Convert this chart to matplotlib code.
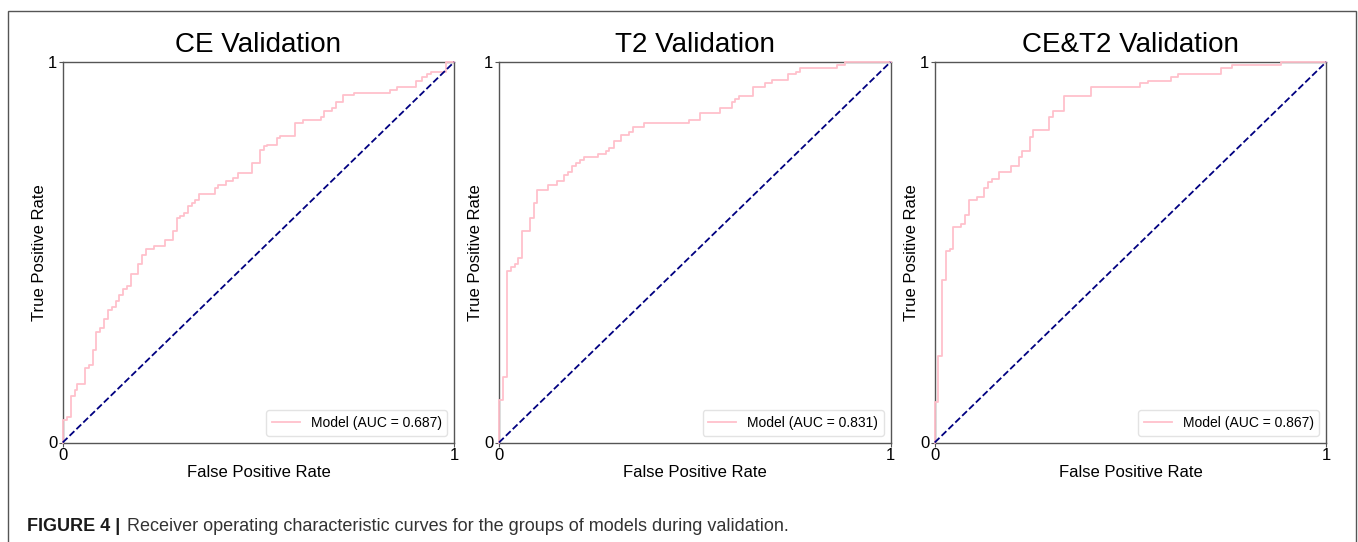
import matplotlib
matplotlib.use("Agg")
import matplotlib.pyplot as plt
from matplotlib.patches import Rectangle

plt.rcParams["font.family"] = ["Liberation Sans", "DejaVu Sans"]

# ── ROC corner points (fpr, tpr after each step) ─────────────────────────────
ce_fpr = [0.000, 0.000, 0.010, 0.020, 0.031, 0.037, 0.058, 0.068, 0.078, 0.085,
          0.095, 0.106, 0.116, 0.126, 0.135, 0.145, 0.155, 0.164, 0.174, 0.193,
          0.203, 0.213, 0.233, 0.262, 0.281, 0.291, 0.300, 0.310, 0.319, 0.330,
          0.339, 0.348, 0.388, 0.397, 0.416, 0.436, 0.448, 0.484, 0.504, 0.513,
          0.523, 0.547, 0.555, 0.593, 0.613, 0.659, 0.668, 0.688, 0.698, 0.717,
          0.744, 0.835, 0.853, 0.903, 0.918, 0.930, 0.942, 0.978, 1.000]
ce_tpr = [0.000, 0.060, 0.067, 0.123, 0.138, 0.154, 0.195, 0.203, 0.243, 0.291,
          0.300, 0.324, 0.349, 0.356, 0.373, 0.388, 0.403, 0.412, 0.443, 0.468,
          0.492, 0.508, 0.516, 0.532, 0.556, 0.589, 0.596, 0.604, 0.622, 0.629,
          0.637, 0.654, 0.670, 0.678, 0.686, 0.694, 0.709, 0.734, 0.769, 0.778,
          0.782, 0.800, 0.806, 0.840, 0.847, 0.855, 0.870, 0.878, 0.895, 0.912,
          0.919, 0.927, 0.935, 0.951, 0.960, 0.968, 0.975, 1.000, 1.000]

t2_fpr = [0.000, 0.000, 0.010, 0.020, 0.031, 0.041, 0.049, 0.060, 0.078, 0.089,
          0.097, 0.126, 0.147, 0.165, 0.176, 0.186, 0.196, 0.206, 0.217, 0.254,
          0.273, 0.282, 0.294, 0.312, 0.331, 0.341, 0.370, 0.485, 0.514, 0.565,
          0.594, 0.602, 0.614, 0.650, 0.679, 0.698, 0.739, 0.758, 0.768, 0.863,
          0.884, 1.000]
t2_tpr = [0.000, 0.113, 0.172, 0.452, 0.460, 0.469, 0.485, 0.557, 0.591, 0.629,
          0.663, 0.678, 0.686, 0.703, 0.711, 0.727, 0.735, 0.743, 0.750, 0.758,
          0.766, 0.775, 0.792, 0.807, 0.815, 0.830, 0.839, 0.847, 0.865, 0.880,
          0.895, 0.904, 0.911, 0.935, 0.944, 0.952, 0.968, 0.975, 0.983, 0.992,
          1.000, 1.000]

both_fpr = [0.000, 0.000, 0.009, 0.019, 0.029, 0.039, 0.048, 0.066, 0.077, 0.087,
            0.107, 0.126, 0.136, 0.147, 0.164, 0.194, 0.215, 0.223, 0.244, 0.252,
            0.291, 0.302, 0.330, 0.399, 0.525, 0.545, 0.603, 0.622, 0.731, 0.760,
            0.884, 1.000]
both_tpr = [0.000, 0.107, 0.227, 0.428, 0.502, 0.509, 0.566, 0.574, 0.598, 0.638,
            0.646, 0.670, 0.685, 0.693, 0.710, 0.726, 0.750, 0.767, 0.804, 0.822,
            0.855, 0.871, 0.911, 0.935, 0.944, 0.951, 0.960, 0.969, 0.983, 0.992,
            1.000, 1.000]

titles = ["CE Validation", "T2 Validation", "CE&T2 Validation"]
aucs   = [0.687, 0.831, 0.867]
curves = [(ce_fpr, ce_tpr), (t2_fpr, t2_tpr), (both_fpr, both_tpr)]

caption_bold = "FIGURE 4 |"
caption_text = "Receiver operating characteristic curves for the groups of models during validation."

W, H = 1358, 542
fig = plt.figure(figsize=(W / 100, H / 100), dpi=100)

# thin frame round the whole figure panel (open at the bottom edge)
fig.add_artist(Rectangle((8 / W, -0.05), (1356 - 8) / W, 1.05 - 11 / H,
                         transform=fig.transFigure, fill=False,
                         edgecolor="#555555", linewidth=1.0))

lefts  = [62.7, 499.0, 934.7]
width  = 391.5
bottom = 1 - 442.5 / H
height = (442.5 - 62.0) / H

for left, title, auc, (fpr, tpr) in zip(lefts, titles, aucs, curves):
    ax = fig.add_axes([left / W, bottom, width / W, height])
    ax.plot(fpr, tpr, drawstyle="steps-post", color="pink", linewidth=1.3,
            label=f"Model (AUC = {auc:.3f})", zorder=3, clip_on=False)
    ax.plot([0, 1], [0, 1], color="navy", linestyle="--", linewidth=1.3,
            zorder=3, clip_on=False)
    ax.set_xlim(0, 1)
    ax.set_ylim(0, 1)
    ax.set_xticks([0, 1])
    ax.set_yticks([0, 1])
    ax.set_xticklabels(["0", "1"])
    ax.set_yticklabels(["0", "1"])
    ax.tick_params(labelsize=12, length=3, width=0.8, pad=1, color="#555555")
    for spine in ax.spines.values():
        spine.set_edgecolor("#555555")
        spine.set_linewidth(1.0)
    ax.set_title(title, fontsize=20, pad=7)
    ax.set_xlabel("False Positive Rate", fontsize=12, labelpad=1.5)
    ax.set_ylabel("True Positive Rate", fontsize=12, labelpad=1)
    ax.legend(loc="lower right", fontsize=10, framealpha=0.8,
              edgecolor="#dddddd", handlelength=2.0)

# caption: bold figure tag, then the regular sentence right after it
y_cap = 1 - 526.5 / H
tag = fig.text(27 / W, y_cap, caption_bold, fontsize=13, fontweight="bold",
               va="center", ha="left", color="#1a1a1a")
fig.canvas.draw()
tag_end = tag.get_window_extent(fig.canvas.get_renderer()).x1
fig.text((tag_end + 7) / W, y_cap, caption_text, fontsize=13,
         va="center", ha="left", color="#333333")

fig.savefig("out.png", dpi=100)
